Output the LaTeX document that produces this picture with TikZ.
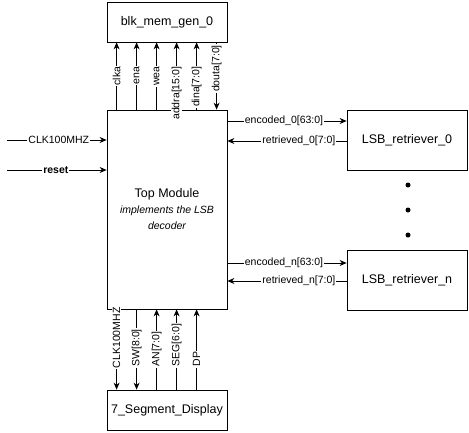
\documentclass[tikz,border=0pt]{standalone}
\usepackage{fontspec}
\setmainfont{Liberation Sans}
\usetikzlibrary{arrows.meta}
\newcommand{\subtxt}{\fontsize{10.5}{16}\selectfont\itshape}
\begin{document}
\begin{tikzpicture}[x=1pt,y=-1pt,
  box/.style={draw,line width=0.8pt,minimum width=120pt,inner sep=0pt,font=\fontsize{12.5}{15}\selectfont},
  arr/.style={line width=0.8pt,-{Stealth[length=7pt,width=6pt]}},
  lab/.style={fill=white,inner sep=1pt,font=\fontsize{10.5}{12}\selectfont},
  vlab/.style={lab,rotate=90},
  dot/.style={circle,fill=black,inner sep=0pt,minimum size=5pt}]
\useasboundingbox (0,0) rectangle (469,432);

% module boxes
\node[box,minimum height=40pt] (blk) at (167,22) {blk\_mem\_gen\_0};
\node[box,minimum height=199pt,align=center] (top) at (167,209.5)
  {Top Module\\[1pt]\subtxt implements the LSB\\[1pt]\subtxt decoder};
\node[box,minimum height=40pt] (seg) at (167,410) {7\_Segment\_Display};
\node[box,minimum height=60pt] (r0) at (407,140) {LSB\_retriever\_0};
\node[box,minimum height=60pt] (rn) at (407,280) {LSB\_retriever\_n};

% ellipsis between retrievers
\node[dot] (d1) at (408,185) {};
\node[dot] (d2) at (408,210) {};
\node[dot] (d3) at (408,235) {};

% memory interface
\draw[arr] ([xshift=10pt]top.north west) -- ([xshift=10pt]blk.south west) node[vlab,pos=0.66,anchor=east] {clka};
\draw[arr] ([xshift=30pt]top.north west) -- ([xshift=30pt]blk.south west) node[vlab,pos=0.66,anchor=east] {ena};
\draw[arr] ([xshift=50pt]top.north west) -- ([xshift=50pt]blk.south west) node[vlab,pos=0.66,anchor=east] {wea};
\draw[arr] ([xshift=70pt]top.north west) -- ([xshift=70pt]blk.south west) node[vlab,pos=0.66,anchor=east] {addra[15:0]};
\draw[arr] ([xshift=90pt]top.north west) -- ([xshift=90pt]blk.south west) node[vlab,pos=0.66,anchor=east] {dina[7:0]};
\draw[arr] ([xshift=110pt]blk.south west) -- ([xshift=110pt]top.north west) node[vlab,pos=0.02,anchor=east] {douta[7:0]};

% external inputs
\coordinate (clkin) at (7,140);
\coordinate (rstin) at (7,170);
\draw[arr] (clkin) -- (clkin -| top.west) node[lab,pos=0.52] {CLK100MHZ};
\draw[arr] (rstin) -- (rstin -| top.west) node[lab,pos=0.49,font=\fontsize{10.5}{12}\selectfont\bfseries] {reset};

% retriever channels
\draw[arr] (top.east |- 0,121) -- (r0.west |- 0,121) node[lab,pos=0.475] {encoded\_0[63:0]};
\draw[arr] (r0.west |- 0,141) -- (top.east |- 0,141) node[lab,pos=0.4] {retrieved\_0[7:0]};
\draw[arr] (top.east |- 0,263) -- (rn.west |- 0,263) node[lab,pos=0.475] {encoded\_n[63:0]};
\draw[arr] (rn.west |- 0,281) -- (top.east |- 0,281) node[lab,pos=0.4] {retrieved\_n[7:0]};

% display interface
\draw[arr] ([xshift=10pt]top.south west) -- ([xshift=10pt]seg.north west) node[vlab,pos=0.75,anchor=west] {CLK100MHZ};
\draw[arr] ([xshift=30pt]top.south west) -- ([xshift=30pt]seg.north west) node[vlab,pos=0.73,anchor=west] {SW[8:0]};
\draw[arr] ([xshift=50pt]seg.north west) -- ([xshift=50pt]top.south west) node[vlab,pos=0.27,anchor=west] {AN[7:0]};
\draw[arr] ([xshift=70pt]seg.north west) -- ([xshift=70pt]top.south west) node[vlab,pos=0.27,anchor=west] {SEG[6:0]};
\draw[arr] ([xshift=90pt]seg.north west) -- ([xshift=90pt]top.south west) node[vlab,pos=0.27,anchor=west] {DP};
\end{tikzpicture}
\end{document}
